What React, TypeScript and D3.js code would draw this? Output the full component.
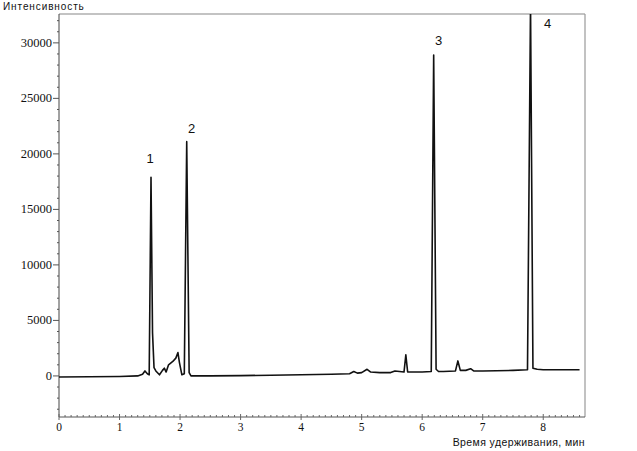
import React, { useEffect, useRef } from "react";
import * as d3 from "d3";

const times = [0, 0.5, 1.0, 1.3, 1.38, 1.42, 1.46, 1.49, 1.52, 1.545, 1.57, 1.6, 1.66, 1.71, 1.74, 1.77, 1.81, 1.88, 1.93, 1.965, 1.99, 2.03, 2.07, 2.11, 2.15, 2.18, 2.5, 3, 3.5, 4, 4.5, 4.8, 4.87, 4.93, 5.0, 5.09, 5.15, 5.3, 5.48, 5.55, 5.7, 5.73, 5.76, 6.0, 6.15, 6.19, 6.23, 6.27, 6.35, 6.55, 6.59, 6.63, 6.72, 6.8, 6.85, 7.0, 7.5, 7.74, 7.79, 7.83, 7.9, 8.0, 8.3, 8.6];
const intensities = [-100, -80, -50, 0, 150, 450, 200, 100, 17900, 3900, 750, 450, 100, 500, 700, 350, 1000, 1300, 1600, 2100, 1200, 100, 200, 21100, 300, 0, 0, 30, 60, 100, 150, 200, 400, 250, 300, 600, 350, 300, 300, 450, 350, 1900, 350, 350, 400, 28900, 600, 400, 400, 450, 1350, 500, 500, 650, 450, 450, 500, 550, 33500, 700, 600, 550, 550, 550];

const xTicks = [0, 1, 2, 3, 4, 5, 6, 7, 8];
const yTicks = [0, 5000, 10000, 15000, 20000, 25000, 30000];
const peakLabels = ["1", "2", "3", "4"];
const peakTimes = [1.52, 2.11, 6.19, 7.79];
const peakLabelValues = [19200, 21900, 29800, 31350];

const W = 637, H = 451;
const L = 59, R = 585, T = 14, B = 417;

export default function App() {
  const ref = useRef<SVGSVGElement>(null);
  useEffect(() => {
    const svg = d3.select(ref.current);
    svg.selectAll("*").remove();
    const x = d3.scaleLinear().domain([0, 8.69]).range([L, R]);
    const y = d3.scaleLinear().domain([-3700, 32600]).range([B, T]);

    svg.append("rect").attr("width", W).attr("height", H).attr("fill", "#fff");

    // frame
    svg.append("line").attr("x1", L).attr("x2", R).attr("y1", T).attr("y2", T).attr("stroke", "#888").attr("stroke-width", 1.2);
    svg.append("line").attr("x1", R).attr("x2", R).attr("y1", T).attr("y2", B).attr("stroke", "#999").attr("stroke-width", 1.2);

    // y axis
    const gy = svg.append("g").attr("transform", `translate(${L},0)`);
    gy.append("line").attr("y1", T).attr("y2", B).attr("stroke", "#444").attr("stroke-width", 1);
    d3.range(-3000, 32001, 1000).forEach((v) => {
      const major = v % 5000 === 0;
      gy.append("line").attr("x1", major ? -6 : -2).attr("x2", 0).attr("y1", y(v)).attr("y2", y(v)).attr("stroke", "#555").attr("stroke-width", 1);
    });
    yTicks.forEach((v) => {
      gy.append("text").attr("x", -7).attr("y", y(v) + 4).attr("text-anchor", "end")
        .attr("font-family", "'Liberation Serif', 'DejaVu Serif', serif").attr("font-size", 12.5).attr("fill", "#111").text(String(v));
    });

    // x axis
    const gx = svg.append("g").attr("transform", `translate(0,${B})`);
    gx.append("line").attr("x1", L).attr("x2", R).attr("stroke", "#555").attr("stroke-width", 1);
    d3.range(0, 87).forEach((i) => {
      const v = i / 10;
      const major = i % 10 === 0;
      gx.append("line").attr("x1", x(v)).attr("x2", x(v)).attr("y1", major ? 3 : 0).attr("y2", major ? -3 : -2).attr("stroke", "#666").attr("stroke-width", 1);
    });
    xTicks.forEach((v) => {
      gx.append("text").attr("x", x(v)).attr("y", 14).attr("text-anchor", "middle")
        .attr("font-family", "'Liberation Serif', 'DejaVu Serif', serif").attr("font-size", 11.5).attr("fill", "#111").text(String(v));
    });

    // line
    const data = times.map((t, i) => [t, intensities[i]] as [number, number]);
    svg.append("clipPath").attr("id", "clip").append("rect").attr("x", L).attr("y", T).attr("width", R - L).attr("height", B - T);
    svg.append("path").attr("clip-path", "url(#clip)")
      .attr("d", d3.line<[number, number]>().x((d) => x(d[0])).y((d) => y(d[1]))(data) || "")
      .attr("fill", "none").attr("stroke", "#111").attr("stroke-width", 1.6).attr("stroke-linejoin", "round");

    // peak labels
    peakLabels.forEach((lab, i) => {
      svg.append("text").attr("x", x(peakTimes[i]) + (i === 3 ? 17 : i === 0 ? -1 : 5)).attr("y", y(peakLabelValues[i]))
        .attr("text-anchor", "middle").attr("font-family", "'Liberation Sans', Arial, sans-serif").attr("font-size", 13).attr("fill", "#111").text(lab);
    });

    svg.append("text").attr("x", 3).attr("y", 10).attr("font-family", "'Liberation Sans', Arial, sans-serif").attr("font-size", 10).attr("letter-spacing", 0.9).attr("fill", "#111").text("Интенсивность");
    svg.append("text").attr("x", 585).attr("y", 446).attr("text-anchor", "end").attr("font-family", "'Liberation Sans', Arial, sans-serif").attr("font-size", 10.5).attr("letter-spacing", 0.4).attr("fill", "#111").text("Время удерживания, мин");
  }, []);
  return <svg ref={ref} width={W} height={H} style={{ position: "absolute", left: 0, top: 0 }} />;
}
